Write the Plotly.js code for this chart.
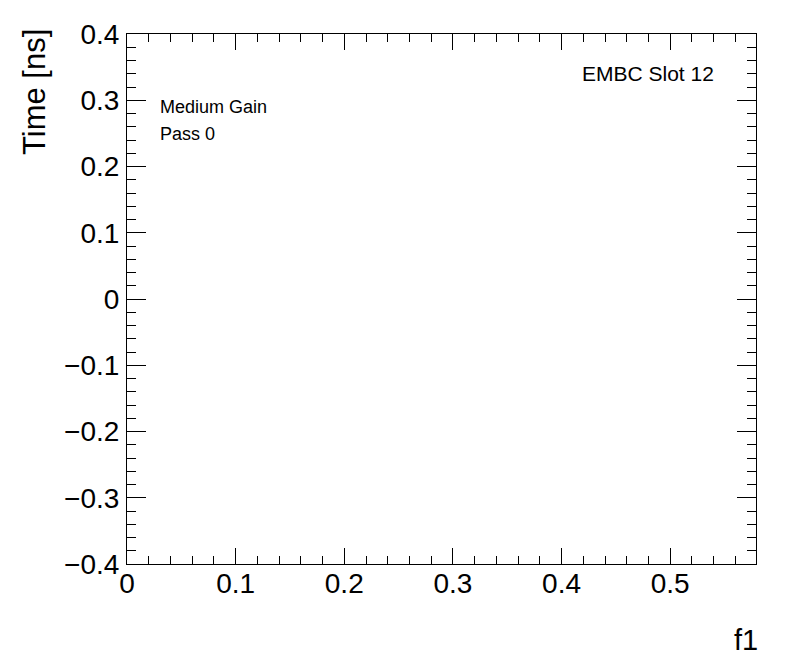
<!DOCTYPE html>
<html>
<head>
<meta charset="utf-8">
<script src="https://cdn.plot.ly/plotly-3.0.1.min.js"></script>
<style>html,body{margin:0;padding:0;background:#fff;}#chart{width:796px;height:672px;}</style>
</head>
<body>
<div id="chart"></div>
<script>
// Data (the reference frame is empty: no points drawn)
const xValues = [];
const yValues = [];
const xRange = [0, 0.579];
const yRange = [-0.4, 0.4];
const xTickVals = [0, 0.1, 0.2, 0.3, 0.4, 0.5];
const xTickText = ["0", "0.1", "0.2", "0.3", "0.4", "0.5"];
const yTickVals = [-0.4, -0.3, -0.2, -0.1, 0, 0.1, 0.2, 0.3, 0.4];
const yTickText = ["\u22120.4", "\u22120.3", "\u22120.2", "\u22120.1", "0", "0.1", "0.2", "0.3", "0.4"];
const xTitle = "f1";
const yTitle = "Time [ns]";
const labels = ["Medium Gain", "Pass 0"];
const slotLabel = "EMBC Slot 12";

const font = "Liberation Sans, Arial, Helvetica, sans-serif";

const trace = {x: xValues, y: yValues, type: "scatter", mode: "markers",
  marker: {color: "black", size: 4}, showlegend: false, hoverinfo: "skip"};

const W = 796, H = 672, L = 127, R = 40, T = 34, B = 108;
const pw = W - L - R, ph = H - T - B;
const px = v => (v - L) / pw;           // pixel -> paper x
const py = v => (H - B - v) / ph;       // pixel -> paper y

const layout = {
  width: W, height: H,
  margin: {l: L, r: R, t: T, b: B, pad: 0},
  paper_bgcolor: "#fff", plot_bgcolor: "#fff",
  font: {family: font, color: "black"},
  showlegend: false,
  xaxis: {
    range: xRange, tickmode: "array", tickvals: xTickVals, ticktext: xTickText,
    ticks: "inside", ticklen: 16, tickwidth: 1, tickcolor: "black",
    minor: {dtick: 0.02, tick0: 0, ticks: "inside", ticklen: 8, tickwidth: 1, tickcolor: "black"},
    showline: true, linecolor: "black", linewidth: 1, mirror: "ticks",
    showgrid: false, zeroline: false,
    tickfont: {family: font, size: 28, color: "black"},
    ticklabelstandoff: -6
  },
  yaxis: {
    range: yRange, tickmode: "array", tickvals: yTickVals, ticktext: yTickText,
    ticks: "inside", ticklen: 19, tickwidth: 1, tickcolor: "black",
    minor: {dtick: 0.02, tick0: 0, ticks: "inside", ticklen: 9, tickwidth: 1, tickcolor: "black"},
    showline: true, linecolor: "black", linewidth: 1, mirror: "ticks",
    showgrid: false, zeroline: false,
    tickfont: {family: font, size: 28, color: "black"},
    ticklabelstandoff: 1
  },
  annotations: [
    {text: xTitle, xref: "paper", yref: "paper", x: px(760), y: py(640),
     xanchor: "right", yanchor: "middle", showarrow: false,
     font: {family: font, size: 29, color: "black"}},
    {text: yTitle, xref: "paper", yref: "paper", x: px(35), y: py(27),
     xanchor: "center", yanchor: "top", textangle: -90, showarrow: false,
     font: {family: font, size: 31, color: "black"}},
    {text: labels[0], xref: "paper", yref: "paper", x: px(158), y: py(107),
     xanchor: "left", yanchor: "middle", showarrow: false,
     font: {family: font, size: 18, color: "black"}},
    {text: labels[1], xref: "paper", yref: "paper", x: px(158), y: py(134),
     xanchor: "left", yanchor: "middle", showarrow: false,
     font: {family: font, size: 18, color: "black"}},
    {text: slotLabel, xref: "paper", yref: "paper", x: px(716), y: py(73),
     xanchor: "right", yanchor: "middle", showarrow: false,
     font: {family: font, size: 21, color: "black"}}
  ]
};

Plotly.newPlot("chart", [trace], layout, {displayModeBar: false, staticPlot: true});
</script>
</body>
</html>
